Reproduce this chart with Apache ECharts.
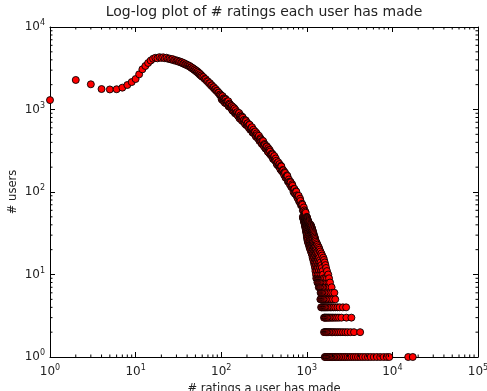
<!DOCTYPE html>
<html>
<head>
<meta charset="utf-8">
<script src="https://cdn.jsdelivr.net/npm/echarts@6/dist/echarts.min.js"></script>
<style>
  html, body { margin: 0; padding: 0; background: #fff; }
  #chart { width: 487px; height: 391px; }
</style>
</head>
<body>
<div id="chart"></div>
<script>
// # ratings (x) vs # users (y)

// sparse start, x = 1..15
const lowX = [1, 2, 3, 4, 5, 6, 7, 8, 9, 10, 11, 12, 13, 14, 15]
const lowY = [1300, 2280, 2020, 1770, 1750, 1760, 1840, 1980, 2150, 2340, 2670, 3070, 3370, 3660, 3920]

// around the peak, x = 16..98
const peakX = [16, 17, 18, 19, 20, 21, 22, 23, 24, 25, 26, 27, 28, 29, 30, 31, 32, 33, 34, 35,
  36, 37, 38, 39, 40, 41, 42, 43, 44, 45, 46, 47, 48, 49, 50, 51, 52, 53, 54, 55, 56, 57, 58, 59,
  60, 62, 64, 66, 68, 70, 72, 74, 76, 78, 80, 82, 84, 86, 88, 90, 92, 94, 96, 98]
const peakY = [4120, 4230, 4170, 4310, 4220, 4290, 4180, 4240, 4110, 4140, 4030, 4080, 3940, 3980, 3870, 3900, 3780, 3820, 3700, 3730,
  3600, 3640, 3510, 3540, 3430, 3450, 3350, 3360, 3240, 3250, 3130, 3160, 3040, 3060, 2940, 2970, 2850, 2880, 2760, 2780, 2650, 2690, 2570, 2590,
  2490, 2470, 2350, 2330, 2210, 2190, 2080, 2080, 1960, 1960, 1860, 1860, 1760, 1770, 1680, 1680, 1600, 1600, 1510, 1520]

// the long fall, x = 100..1008
const midX = [100, 102, 104, 106, 108, 110, 113, 115, 118, 121, 124, 127, 130, 133, 136, 140, 143, 147, 150, 154,
  158, 162, 166, 170, 174, 179, 183, 188, 193, 197, 202, 207, 213, 218, 224, 229, 235, 241, 247, 253,
  260, 266, 273, 280, 287, 294, 302, 309, 317, 325, 334, 342, 351, 360, 369, 378, 388, 398, 408, 418,
  429, 440, 451, 463, 474, 486, 499, 511, 524, 538, 551, 565, 580, 594, 610, 625, 641, 657, 674, 691,
  709, 727, 745, 764, 784, 804, 824, 845, 867, 889, 912, 935, 959, 983, 1008]
const midY = [1480, 1320, 1450, 1300, 1340, 1210, 1320, 1220, 1160, 1260, 1090, 1150, 1060, 1100, 965, 1010, 1030, 905, 910, 930,
  830, 905, 805, 815, 735, 795, 740, 690, 740, 645, 680, 630, 655, 570, 600, 610, 530, 528, 535, 477,
  514, 457, 465, 415, 449, 411, 383, 414, 355, 372, 341, 355, 307, 322, 323, 283, 281, 285, 251, 273,
  239, 239, 214, 230, 212, 196, 208, 179, 185, 169, 174, 149, 155, 156, 134, 133, 133, 116, 124, 108,
  108, 95, 102, 91, 84, 90, 76, 78, 70, 70, 59, 60, 58, 49, 48]

// the same stretch, the x values in between
const mid2X = [101, 103, 105, 107, 109, 112, 114, 116, 119, 122, 125, 128, 131, 134, 138, 141, 145, 148, 152, 156,
  160, 164, 168, 172, 176, 181, 185, 190, 195, 199, 204, 210, 215, 221, 226, 232, 238, 244, 250, 256,
  263, 269, 276, 283, 290, 298, 305, 313, 321, 329, 338, 346, 355, 364, 373, 383, 393, 403, 413, 423,
  434, 445, 457, 468, 480, 492, 505, 517, 531, 544, 558, 572, 587, 602, 617, 633, 649, 665, 682, 700,
  718, 736, 754, 774, 794, 814, 834, 856, 878, 900, 923, 947, 971, 995]
const mid2Y = [1350, 1445, 1285, 1368, 1263, 1346, 1185, 1250, 1255, 1095, 1180, 1061, 1107, 990, 1068, 953, 899, 982, 916, 848,
  903, 779, 849, 778, 819, 713, 747, 666, 723, 653, 680, 601, 652, 584, 595, 526, 569, 508, 540, 468,
  488, 445, 480, 422, 434, 383, 417, 369, 382, 336, 360, 319, 340, 295, 309, 277, 293, 253, 269, 243,
  255, 220, 227, 206, 218, 188, 204, 178, 183, 161, 170, 149, 159, 134, 142, 124, 131, 115, 119, 100,
  109, 95, 101, 86, 89, 77, 83, 69, 72, 60, 65, 54, 56, 46]

// tail: each count and the x values that share it
const rowCounts = [50, 49, 48, 47, 46, 45, 44, 43, 42, 41, 40, 39, 38, 37, 36, 35, 34, 33, 32, 31, 30, 29, 28, 27, 26,
  25, 24, 23, 22, 21, 20, 19, 18, 17, 16, 15, 14, 13, 12, 11, 10,
  9, 8, 7, 6, 5, 4, 3, 2, 1]
const rowX = [
  [900, 950, 1000],
  [905, 955, 1005],
  [910, 960, 1010],
  [915, 965, 1015],
  [920, 970, 1020],
  [925, 978, 1030],
  [930, 985, 1040],
  [935, 992, 1050],
  [940, 1000, 1060],
  [945, 1005, 1065],
  [950, 1010, 1070, 1110],
  [955, 1015, 1075, 1120],
  [960, 1020, 1080, 1130],
  [965, 1025, 1085, 1140],
  [970, 1030, 1090, 1150],
  [975, 1035, 1100, 1160],
  [980, 1040, 1110, 1170],
  [985, 1050, 1120, 1180],
  [990, 1060, 1130, 1190],
  [995, 1065, 1135, 1200],
  [1000, 1070, 1140, 1210],
  [1005, 1080, 1150, 1225],
  [1010, 1090, 1160, 1240],
  [1015, 1095, 1170, 1250],
  [1020, 1100, 1180, 1260],
  [1030, 1070, 1110, 1150, 1200, 1280],
  [1040, 1085, 1130, 1175, 1220, 1310],
  [1060, 1100, 1150, 1195, 1240, 1330],
  [1070, 1115, 1160, 1210, 1260, 1360],
  [1080, 1130, 1180, 1230, 1280, 1390],
  [1100, 1150, 1200, 1250, 1300, 1410],
  [1120, 1170, 1220, 1275, 1330, 1440],
  [1140, 1190, 1240, 1295, 1350, 1480],
  [1160, 1210, 1260, 1320, 1380, 1510],
  [1170, 1225, 1280, 1340, 1400, 1560],
  [1190, 1245, 1300, 1365, 1430, 1590],
  [1210, 1265, 1320, 1385, 1450, 1620],
  [1230, 1285, 1340, 1410, 1480, 1650],
  [1250, 1305, 1360, 1430, 1500, 1680],
  [1260, 1320, 1380, 1455, 1530, 1720],
  [1280, 1340, 1400, 1475, 1550, 1780],
  [1290, 1320, 1350, 1380, 1410, 1450, 1490, 1530, 1580, 1640, 1720, 1820],
  [1330, 1360, 1390, 1420, 1460, 1500, 1540, 1590, 1650, 1710, 1790, 1870],
  [1380, 1410, 1440, 1470, 1510, 1550, 1600, 1650, 1720, 1790, 1860, 1950],
  [1450, 1480, 1510, 1550, 1590, 1630, 1680, 1740, 1810, 1890, 1980, 2100],
  [1440, 1470, 1500, 1540, 1580, 1620, 1670, 1720, 1780, 1850, 1930, 2020, 2150],
  [1470, 1500, 1540, 1580, 1620, 1660, 1710, 1760, 1820, 1890, 1960, 2050, 2150, 2280, 2420, 2640, 2880],
  [1590, 1620, 1660, 1700, 1750, 1800, 1860, 1920, 1990, 2070, 2160, 2260, 2380, 2540, 2900, 3320],
  [1590, 1630, 1670, 1710, 1760, 1810, 1870, 1930, 2000, 2080, 2170, 2270, 2380, 2500, 2650, 2820, 3000, 3250, 3560, 4200],
  [1620, 1660, 1700, 1740, 1790, 1840, 1890, 1950, 2010, 2080, 2150, 2230, 2310, 2400, 2500, 2610, 2730, 2860, 3000,
    3160, 3330, 3520, 3730, 3960, 4220, 4500, 4820, 5180, 5580, 6050, 6600, 7200, 7900, 8600, 9200, 15300, 17300]
]

// axis decorations
const xTickSup = ['0', '1', '2', '3', '4', '5']
const yTickSup = ['0', '1', '2', '3', '4']
const minorMult = [2, 3, 4, 5, 6, 7, 8, 9]

const X_MIN = 1, X_MAX = 100000
const Y_MIN = 1, Y_MAX = 10000

// build one list, drawn in order of x like the original
const points = []
lowX.forEach((x, i) => points.push([x, lowY[i]]))
peakX.forEach((x, i) => points.push([x, peakY[i]]))
midX.forEach((x, i) => points.push([x, midY[i]]))
mid2X.forEach((x, i) => points.push([x, mid2Y[i]]))
rowCounts.forEach((c, i) => rowX[i].forEach(x => points.push([x, c])))
points.sort((a, b) => a[0] - b[0])

const xMinor = []
xTickSup.slice(0, -1).forEach((_, k) => minorMult.forEach(m => xMinor.push([m * Math.pow(10, k), Y_MIN])))
const yMinor = []
yTickSup.slice(0, -1).forEach((_, k) => minorMult.forEach(m => yMinor.push([X_MIN, m * Math.pow(10, k)])))

const FONT = 'DejaVu Sans'
const INK = '#222'

function supLabel(sups) {
  return function (value) {
    const k = Math.round(Math.log10(value))
    return '{b|10}{s|' + sups[k] + '}'
  }
}
const supRich = {
  b: { fontFamily: FONT, fontSize: 12, color: INK },
  s: { fontFamily: FONT, fontSize: 8, color: INK, padding: [0, 0, 8, 0] }
}

const axisLine = { show: true, lineStyle: { color: '#000', width: 1 } }
const majorTick = { show: true, inside: true, length: 5, lineStyle: { color: '#000' } }

const chart = echarts.init(document.getElementById('chart'), null, { renderer: 'canvas' })

const option = {
  animation: false,
  backgroundColor: '#fff',
  title: {
    text: 'Log-log plot of # ratings each user has made',
    left: 264,
    top: 5,
    padding: 0,
    textAlign: 'center',
    textStyle: { fontFamily: FONT, fontSize: 14, fontWeight: 'normal', color: INK }
  },
  grid: { left: 50, right: 9, top: 27, bottom: 34, containLabel: false, outerBoundsMode: 'none' },
  xAxis: [{
    type: 'log', logBase: 10, min: X_MIN, max: X_MAX,
    position: 'bottom',
    name: '# ratings a user has made',
    nameLocation: 'middle', nameGap: 26, nameMoveOverlap: false,
    nameTextStyle: { fontFamily: FONT, fontSize: 11.5, color: INK },
    axisLine, axisTick: majorTick,
    splitLine: { show: false }, minorTick: { show: false },
    axisLabel: { formatter: supLabel(xTickSup), rich: supRich, margin: 7 }
  }, {
    type: 'log', logBase: 10, min: X_MIN, max: X_MAX,
    position: 'top',
    axisLine, axisTick: majorTick,
    splitLine: { show: false },
    axisLabel: { show: false }
  }],
  yAxis: [{
    type: 'log', logBase: 10, min: Y_MIN, max: Y_MAX,
    position: 'left',
    name: '# users',
    nameLocation: 'middle', nameGap: 31, nameMoveOverlap: false,
    nameTextStyle: { fontFamily: FONT, fontSize: 11.5, color: INK },
    axisLine, axisTick: majorTick,
    splitLine: { show: false },
    axisLabel: { formatter: supLabel(yTickSup), rich: supRich, margin: 5 }
  }, {
    type: 'log', logBase: 10, min: Y_MIN, max: Y_MAX,
    position: 'right',
    axisLine, axisTick: majorTick,
    splitLine: { show: false },
    axisLabel: { show: false }
  }],
  series: [{
    name: 'users',
    type: 'scatter',
    data: points,
    symbol: 'circle',
    symbolSize: 7,
    itemStyle: { color: '#ff0000', borderColor: '#000', borderWidth: 0.9, opacity: 1 },
    emphasis: { disabled: true },
    z: 2
  }, {
    // minor ticks on bottom and top
    type: 'custom',
    data: xMinor,
    silent: true,
    z: 5,
    renderItem: function (params, api) {
      const v = api.value(0)
      const b = api.coord([v, Y_MIN])
      const t = api.coord([v, Y_MAX])
      const style = { stroke: '#000', lineWidth: 1 }
      return {
        type: 'group', children: [
          { type: 'line', shape: { x1: b[0], y1: b[1], x2: b[0], y2: b[1] - 2.5 }, style },
          { type: 'line', shape: { x1: t[0], y1: t[1], x2: t[0], y2: t[1] + 2.5 }, style }
        ]
      }
    }
  }, {
    // minor ticks on left and right
    type: 'custom',
    data: yMinor,
    silent: true,
    z: 5,
    renderItem: function (params, api) {
      const v = api.value(1)
      const l = api.coord([X_MIN, v])
      const r = api.coord([X_MAX, v])
      const style = { stroke: '#000', lineWidth: 1 }
      return {
        type: 'group', children: [
          { type: 'line', shape: { x1: l[0], y1: l[1], x2: l[0] + 2.5, y2: l[1] }, style },
          { type: 'line', shape: { x1: r[0], y1: r[1], x2: r[0] - 2.5, y2: r[1] }, style }
        ]
      }
    }
  }]
}

chart.setOption(option)
</script>
</body>
</html>
